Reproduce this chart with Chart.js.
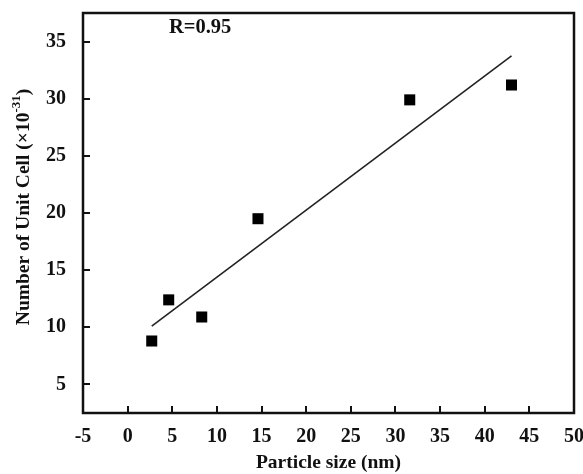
<!DOCTYPE html>
<html><head><meta charset="utf-8">
<script src="https://cdn.jsdelivr.net/npm/chart.js@4/dist/chart.umd.min.js"></script>
<style>html,body{margin:0;padding:0;background:#fff}#wrap{width:583px;height:474px}</style>
</head><body><div id="wrap"><canvas id="c" width="583" height="474"></canvas></div>
<script>
// ---- data ----
const particleSize = [2.7, 4.6, 8.3, 14.6, 31.6, 43.0];
const unitCellCount = [8.8, 12.4, 10.9, 19.5, 29.9, 31.2];
const fitX = [2.7, 43.0];
const fitY = [10.1, 33.75];
const xTicks = [-5, 0, 5, 10, 15, 20, 25, 30, 35, 40, 45, 50];
const yTicks = [5, 10, 15, 20, 25, 30, 35];
const xTitle = 'Particle size (nm)';
const yTitleMain = 'Number of Unit Cell (\u00d710';
const yTitleSup = '-31';
const yTitleEnd = ')';
const annotationText = 'R=0.95';

const FONT = "'Liberation Serif', 'Times New Roman', serif";
const INK = '#111';

const framePlugin = {
  id: 'frame',
  afterDraw(chart) {
    const ctx = chart.ctx, a = chart.chartArea;
    const xs = chart.scales.x, ys = chart.scales.y;
    ctx.save();
    ctx.strokeStyle = INK;
    // inward ticks
    ctx.lineWidth = 2;
    ctx.beginPath();
    xTicks.forEach(v => {
      if (v === xs.min || v === xs.max) return;
      const px = Math.round(xs.getPixelForValue(v));
      ctx.moveTo(px, a.bottom); ctx.lineTo(px, a.bottom - 7);
    });
    yTicks.forEach(v => {
      const py = Math.round(ys.getPixelForValue(v));
      ctx.moveTo(a.left, py); ctx.lineTo(a.left + 7, py);
    });
    ctx.stroke();
    // frame
    ctx.lineWidth = 2.5;
    ctx.strokeRect(a.left, a.top, a.right - a.left, a.bottom - a.top);
    // annotation
    ctx.fillStyle = INK;
    ctx.font = "bold 20.5px " + FONT;
    ctx.textBaseline = 'middle';
    ctx.textAlign = 'left';
    ctx.fillText(annotationText, a.left + 86, a.top + 15);
    // y title with superscript
    const mainFont = "bold 19.5px " + FONT, supFont = "bold 13px " + FONT;
    ctx.font = mainFont; const w1 = ctx.measureText(yTitleMain).width;
    const w3 = ctx.measureText(yTitleEnd).width;
    ctx.font = supFont; const w2 = ctx.measureText(yTitleSup).width;
    const total = w1 + w2 + w3;
    ctx.translate(24, (a.top + a.bottom) / 2 - 6);
    ctx.rotate(-Math.PI / 2);
    let x0 = -total / 2;
    ctx.font = mainFont; ctx.fillText(yTitleMain, x0, 0); x0 += w1;
    ctx.font = supFont; ctx.fillText(yTitleSup, x0, -7); x0 += w2;
    ctx.font = mainFont; ctx.fillText(yTitleEnd, x0, 0);
    ctx.restore();
  }
};

const noPad = s => { s.paddingLeft = 0; s.paddingRight = 0; s.paddingTop = 0; s.paddingBottom = 0; };

new Chart(document.getElementById('c'), {
  type: 'scatter',
  data: {
    datasets: [
      {
        label: 'data',
        data: particleSize.map((x, i) => ({ x, y: unitCellCount[i] })),
        pointStyle: 'rect',
        pointRadius: 7.8,
        borderWidth: 0,
        backgroundColor: '#000',
        borderColor: '#000'
      },
      {
        label: 'fit',
        type: 'line',
        data: fitX.map((x, i) => ({ x, y: fitY[i] })),
        borderColor: '#222',
        borderWidth: 1.6,
        pointRadius: 0,
        fill: false
      }
    ]
  },
  options: {
    responsive: false,
    devicePixelRatio: 1,
    animation: false,
    layout: { padding: { left: 0, right: 9, top: 13, bottom: 0 } },
    plugins: { legend: { display: false }, tooltip: { enabled: false } },
    scales: {
      x: {
        type: 'linear', min: -5, max: 50,
        afterBuildTicks: s => { s.ticks = xTicks.map(v => ({ value: v })); },
        afterFit: s => { s.height = 61; noPad(s); },
        grid: { display: false },
        border: { display: false },
        ticks: { color: INK, padding: 4, maxRotation: 0, autoSkip: false, font: { family: FONT, size: 20, weight: 'bold' } },
        title: { display: true, text: xTitle, color: INK, padding: { top: 0, bottom: -1 }, font: { family: FONT, size: 19.5, weight: 'bold' } }
      },
      y: {
        type: 'linear', min: 2.5, max: 37.5,
        afterBuildTicks: s => { s.ticks = yTicks.map(v => ({ value: v })); },
        afterFit: s => { s.width = 83; noPad(s); },
        grid: { display: false },
        border: { display: false },
        ticks: { color: INK, padding: 9, autoSkip: false, font: { family: FONT, size: 20, weight: 'bold' } },
        title: { display: false }
      }
    }
  },
  plugins: [framePlugin]
});
</script>
</body></html>
